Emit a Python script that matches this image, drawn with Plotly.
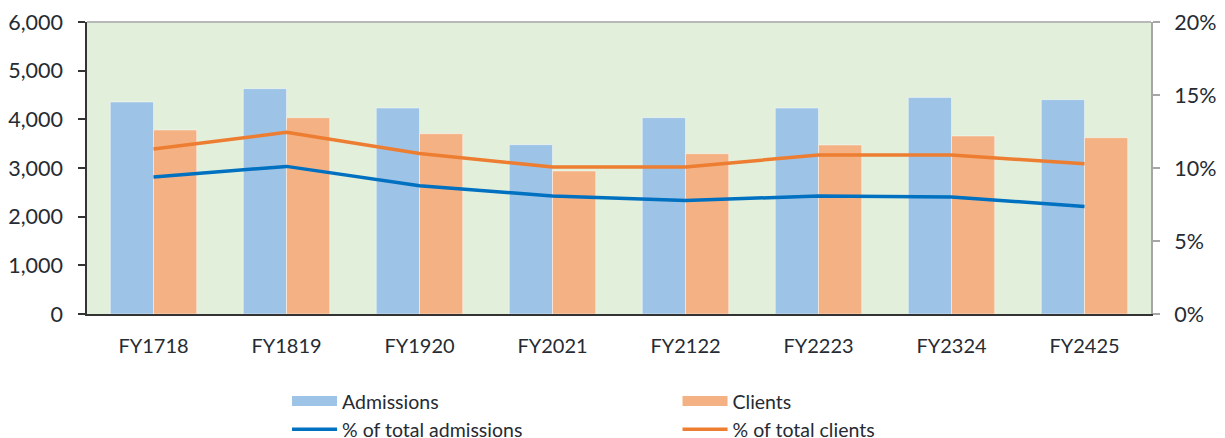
import plotly.graph_objects as go

categories = ["FY1718", "FY1819", "FY1920", "FY2021", "FY2122", "FY2223", "FY2324", "FY2425"]
admissions = [4357, 4630, 4233, 3479, 4034, 4233, 4451, 4404]
clients = [3781, 4034, 3705, 2939, 3294, 3473, 3658, 3623]
pct_admissions = [9.38, 10.11, 8.78, 8.08, 7.78, 8.08, 8.01, 7.37]
pct_clients = [11.30, 12.44, 10.99, 10.07, 10.07, 10.89, 10.89, 10.29]

C_ADM = "#9DC3E6"
C_CLI = "#F4B183"
C_PADM = "#0070C0"
C_PCLI = "#ED7D31"
FONT = "Lato"
TXT = "#262b33"

fig = go.Figure()
fig.add_trace(go.Bar(x=categories, y=admissions, name="Admissions", marker=dict(color=C_ADM, line=dict(color="rgba(255,255,255,0.45)", width=1)), showlegend=False, yaxis="y"))
fig.add_trace(go.Bar(x=categories, y=clients, name="Clients", marker=dict(color=C_CLI, line=dict(color="rgba(255,255,255,0.45)", width=1)), showlegend=False, yaxis="y"))
fig.add_trace(go.Scatter(x=categories, y=[v / 100 for v in pct_admissions], name="% of total admissions", mode="lines", line=dict(color=C_PADM, width=3.5), yaxis="y2", showlegend=False))
fig.add_trace(go.Scatter(x=categories, y=[v / 100 for v in pct_clients], name="% of total clients", mode="lines", line=dict(color=C_PCLI, width=3.5), yaxis="y2", showlegend=False))

# legend entries
fig.add_trace(go.Scatter(x=[None], y=[None], mode="lines", name="Admissions", line=dict(color=C_ADM, width=13), legend="legend"))
fig.add_trace(go.Scatter(x=[None], y=[None], mode="lines", name="% of total admissions", line=dict(color=C_PADM, width=3.5), legend="legend"))
fig.add_trace(go.Scatter(x=[None], y=[None], mode="lines", name="Clients", line=dict(color=C_CLI, width=13), legend="legend2"))
fig.add_trace(go.Scatter(x=[None], y=[None], mode="lines", name="% of total clients", line=dict(color=C_PCLI, width=3.5), legend="legend2"))

legend_common = dict(orientation="v", yanchor="top", y=-0.232, xanchor="left", font=dict(family=FONT, size=19.5, color=TXT),
                     bgcolor="rgba(0,0,0,0)", tracegroupgap=0, itemwidth=45)

fig.update_layout(
    width=1225, height=438,
    margin=dict(l=87, r=74, t=22, b=124, autoexpand=False),
    paper_bgcolor="white",
    plot_bgcolor="#E2EFDA",
    barmode="group", bargap=0.35, bargroupgap=0,
    font=dict(family=FONT, size=20, color=TXT),
    legend=dict(x=0.188, **legend_common),
    legend2=dict(x=0.555, **legend_common),
    xaxis=dict(showgrid=False, showline=True, linecolor="#333333", linewidth=2, ticks="", ticklabelstandoff=13,
               tickfont=dict(family=FONT, size=20, color=TXT), zeroline=False),
    yaxis=dict(range=[0, 6000], dtick=1000, tickformat=",d", showgrid=False, zeroline=False,
               showline=True, linecolor="#333333", linewidth=1.5, ticks="outside", ticklen=7, tickcolor="#333333",
               tickwidth=1.5, ticklabelstandoff=11, tickfont=dict(family=FONT, size=21.5, color=TXT)),
    yaxis2=dict(range=[0, 0.2], dtick=0.05, tickformat=".0%", overlaying="y", side="right", showgrid=False, zeroline=False,
                showline=True, linecolor="#a6a6a6", linewidth=2, ticks="outside", ticklen=7, tickcolor="#a6a6a6",
                tickwidth=1.5, ticklabelstandoff=10, tickfont=dict(family=FONT, size=21.5, color=TXT)),
    shapes=[dict(type="line", xref="paper", yref="paper", x0=0, x1=1, y0=1, y1=1, line=dict(color="#b8b8b8", width=2))],
)

fig.write_html("out.html", config={"displayModeBar": False},
               post_script="document.body.style.margin='0px';document.body.style.padding='0px';")
